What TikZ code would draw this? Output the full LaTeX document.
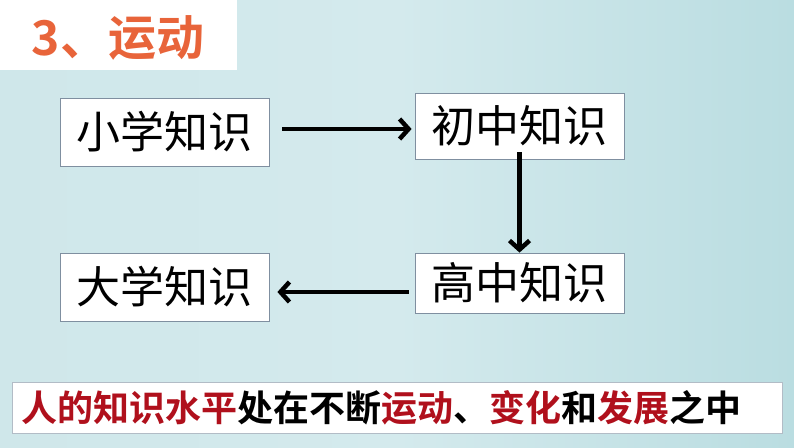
\documentclass[tikz,border=0pt]{standalone}
\usepackage{fontspec}
\newfontfamily\cjk{Noto Sans CJK SC}
\newfontfamily\cjkbold{Noto Sans CJK SC Bold}
\usetikzlibrary{arrows.meta}
\definecolor{bgA}{HTML}{CFE7EA}
\definecolor{bgM}{HTML}{D4EAED}
\definecolor{bgB}{HTML}{BADDE1}
\definecolor{titleor}{HTML}{E8643A}
\definecolor{boxline}{HTML}{7F8FA0}
\definecolor{redtxt}{HTML}{B0101C}
\tikzset{
  kbox/.style={draw=boxline, line width=0.8pt, fill=white, minimum width=209pt, inner sep=0pt, font=\cjk\fontsize{44}{48}\selectfont, text=black},
  flow/.style={line width=4.5pt, -{Straight Barb[length=9pt,width=20pt,line width=4.5pt]}}
}
\begin{document}
\begin{tikzpicture}[x=1pt,y=-1pt]
\shade[left color=bgA, right color=bgB, middle color=bgM] (0,0) rectangle (794,447);
\useasboundingbox (0,0) rectangle (794,447);
% title
\fill[white] (0,0) rectangle (237,70);
\node[anchor=center, text=titleor, font=\cjkbold\fontsize{48}{52}\selectfont] (title) at (118,38) {3、运动};
% boxes
\node[kbox, minimum height=68pt] (xx) at (164.5,132) {小学知识};
\node[kbox, minimum height=66pt] (cz) at (519.5,126) {初中知识};
\node[kbox, minimum height=60pt] (gz) at (519.5,283) {高中知识};
\node[kbox, minimum height=68pt] (dx) at (164.5,287) {大学知识};
% arrows
\draw[flow] ([xshift=13pt]xx.east |- 0,129) -- ([xshift=-3pt]cz.west |- 0,129);
\draw[flow] ([yshift=7pt]cz.south) -- (gz.north);
\draw[flow] ([xshift=-6pt]gz.west |- 0,292) -- ([xshift=8pt]dx.east |- 0,292);
% bottom
\node[draw=boxline!60, line width=0.6pt, fill=white, minimum width=770pt, minimum height=51pt, inner sep=0pt, anchor=center] (bot) at (397,407.5) {};
\node[anchor=west, font=\cjkbold\fontsize{36}{40}\selectfont, inner sep=0pt] (btxt) at (21,407.5)
  {\textcolor{redtxt}{人的知识水平}处在不断\textcolor{redtxt}{运动}、\textcolor{redtxt}{变化}和\textcolor{redtxt}{发展}之中};
\end{tikzpicture}
\end{document}
